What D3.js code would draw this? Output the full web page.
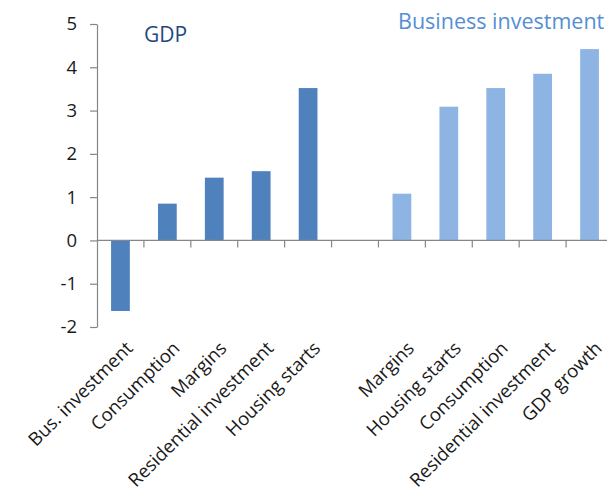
<!DOCTYPE html>
<html>
<head>
<meta charset="utf-8">
<script src="https://cdn.jsdelivr.net/npm/d3@7"></script>
<style>
  html, body { margin: 0; padding: 0; background: #fff; overflow: hidden; }
  svg { display: block; }
  text { font-family: "Open Sans", "Noto Sans", sans-serif; }
</style>
</head>
<body>
<svg id="chart" width="607" height="491"></svg>
<script>
// ---- data ----
const gdpCategories = ["Bus. investment", "Consumption", "Margins", "Residential investment", "Housing starts"];
const gdpValues = [-1.63, 0.85, 1.45, 1.6, 3.52];
const bizCategories = ["Margins", "Housing starts", "Consumption", "Residential investment", "GDP growth"];
const bizValues = [1.08, 3.09, 3.52, 3.85, 4.42];
const yTicks = [-2, -1, 0, 1, 2, 3, 4, 5];
const groupTitles = ["GDP", "Business investment"];

(function () {
// ---- build rows (one empty slot between groups) ----
const rows = [];
gdpCategories.forEach((c, i) => rows.push({ key: "g" + i, label: c, value: gdpValues[i], group: 0 }));
rows.push({ key: "gap", label: "", value: null, group: -1 });
bizCategories.forEach((c, i) => rows.push({ key: "b" + i, label: c, value: bizValues[i], group: 1 }));

const colors = ["#4F81BD", "#8DB4E2"];
const titleColors = ["#1F497D", "#558ED5"];
const axisColor = "#868686";

const svg = d3.select("#chart");
const mLeft = 97, mRight = 613, mTop = 24, mBottom = 327;

const x = d3.scaleBand().domain(rows.map(d => d.key)).range([mLeft, mRight]).paddingInner(0.6).paddingOuter(0.3);
const y = d3.scaleLinear().domain([-2, 5]).range([mBottom, mTop]);

// bars
svg.append("g").selectAll("rect")
  .data(rows.filter(d => d.value !== null))
  .join("rect")
  .attr("x", d => x(d.key))
  .attr("width", x.bandwidth())
  .attr("y", d => y(Math.max(0, d.value)))
  .attr("height", d => Math.abs(y(d.value) - y(0)))
  .attr("fill", d => colors[d.group]);

// y axis
const yAxis = svg.append("g")
  .attr("transform", `translate(${mLeft},0)`)
  .call(d3.axisLeft(y).tickValues(yTicks).tickFormat(d => String(d)).tickSize(7).tickPadding(13).tickSizeOuter(0));
yAxis.select(".domain").attr("stroke", axisColor).attr("stroke-width", 1.2);
yAxis.selectAll(".tick line").attr("stroke", axisColor).attr("stroke-width", 1.2);
yAxis.selectAll(".tick text").attr("fill", "#1a1a1a").style("font-size", "18.5px").style("font-family", "'Open Sans', sans-serif");

// x axis at zero line, ticks between categories
const step = x.step();
const boundaries = rows.slice(1).map(d => x(d.key) - (step - x.bandwidth()) / 2);
const xAxis = svg.append("g").attr("transform", `translate(0,${y(0)})`);
xAxis.append("line").attr("x1", mLeft).attr("x2", mRight).attr("stroke", axisColor).attr("stroke-width", 1.2);
xAxis.selectAll("line.tk").data(boundaries).join("line").attr("class", "tk")
  .attr("x1", d => d).attr("x2", d => d).attr("y1", 0).attr("y2", 7)
  .attr("stroke", axisColor).attr("stroke-width", 1.2);

// category labels below plot area, rotated -45
svg.append("g").selectAll("text")
  .data(rows.filter(d => d.label))
  .join("text")
  .attr("transform", d => `translate(${x(d.key) + x.bandwidth() / 2 + 4},340) rotate(-45)`)
  .attr("dy", "0.72em")
  .attr("text-anchor", "end")
  .attr("fill", "#1a1a1a")
  .style("font-size", "18.5px")
  .text(d => d.label);

// group titles
svg.append("text").attr("x", 144).attr("y", 42).attr("fill", titleColors[0]).style("font-size", "21px").text(groupTitles[0]);
svg.append("text").attr("x", 398).attr("y", 29).attr("fill", titleColors[1]).style("font-size", "21.5px").text(groupTitles[1]);
})();
</script>
</body>
</html>
